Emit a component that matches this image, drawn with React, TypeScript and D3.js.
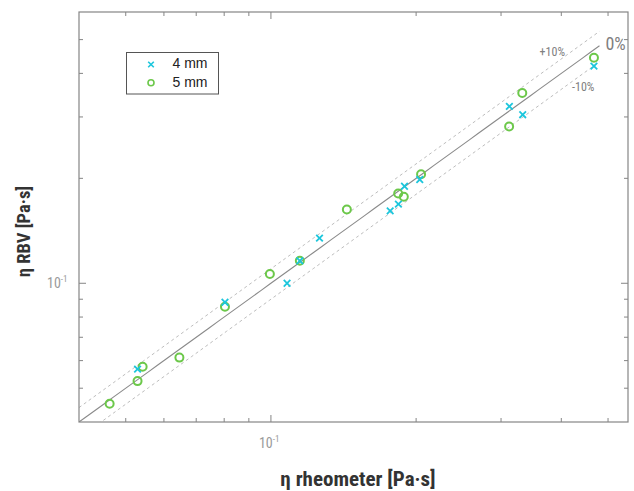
import React from "react";
import * as d3 from "d3";

const mm4X = [0.0529, 0.0803, 0.108, 0.1148, 0.1261, 0.1767, 0.1838, 0.1892, 0.2035, 0.3122, 0.3327, 0.4675];
const mm4Y = [0.0567, 0.0882, 0.1, 0.116, 0.1348, 0.1613, 0.1686, 0.1898, 0.1984, 0.3216, 0.3045, 0.4195];
const mm5X = [0.0463, 0.0529, 0.0542, 0.0646, 0.0803, 0.0995, 0.1148, 0.1437, 0.1836, 0.1886, 0.2048, 0.3118, 0.332, 0.4675];
const mm5Y = [0.0451, 0.0524, 0.0576, 0.0612, 0.0856, 0.1063, 0.116, 0.1628, 0.181, 0.177, 0.2054, 0.2818, 0.3512, 0.4433];
const seriesNames = ["4 mm", "5 mm"];
const refLines = [
  { factor: 1.0, label: "0%" },
  { factor: 1.1, label: "+10%" },
  { factor: 0.9, label: "-10%" },
];
const xDomain = [0.04, 0.55];
const yDomain = [0.04, 0.6];
const lineRange = [0.04, 0.48];
const xTitle = "η rheometer [Pa·s]";
const yTitle = "η RBV [Pa·s]";

const CYAN = "#1cc6dc";
const GREEN = "#6cc84a";
const COND = "'Liberation Sans Narrow','Roboto Condensed','DejaVu Sans Condensed','Open Sans',sans-serif";

export default function App() {
  const L = 79, R = 628, T = 12, B = 422;
  const x = d3.scaleLog().domain(xDomain).range([L, R]);
  const y = d3.scaleLog().domain(yDomain).range([B, T]);
  const xt = x.ticks().filter((v) => v > xDomain[0] * 1.001 && v < xDomain[1] * 0.999);
  const yt = y.ticks().filter((v) => v > yDomain[0] * 1.001 && v < yDomain[1] * 0.999);
  const isMajor = (v: number) => Math.abs(Math.log10(v) - Math.round(Math.log10(v))) < 1e-6;

  const lineGen = (f: number) => {
    const pts: [number, number][] = [];
    const n = 60;
    for (let i = 0; i <= n; i++) {
      const xv = lineRange[0] * Math.pow(lineRange[1] / lineRange[0], i / n);
      const yv = xv * f;
      pts.push([x(xv), y(yv)]);
    }
    return d3.line()(pts) || "";
  };
  const cross = (cx: number, cy: number, s: number, key: string | number, sw = 1.8) => (
    <g key={key} stroke={CYAN} strokeWidth={sw} strokeLinecap="butt">
      <line x1={cx - s} y1={cy - s} x2={cx + s} y2={cy + s} />
      <line x1={cx - s} y1={cy + s} x2={cx + s} y2={cy - s} />
    </g>
  );

  return (
    <svg width={634} height={491} style={{ position: "absolute", left: 0, top: 0, background: "#fff" }}>
      <defs>
        <clipPath id="plot">
          <rect x={L} y={T} width={R - L} height={B - T} />
        </clipPath>
      </defs>
      <rect x={0} y={0} width={634} height={491} fill="#fff" />
      {/* reference lines */}
      <g clipPath="url(#plot)" fill="none">
        <path d={lineGen(refLines[1].factor)} stroke="#bdbdbd" strokeWidth={1} strokeDasharray="3,3" />
        <path d={lineGen(refLines[2].factor)} stroke="#bdbdbd" strokeWidth={1} strokeDasharray="3,3" />
        <path d={lineGen(refLines[0].factor)} stroke="#8a8a8a" strokeWidth={1.1} />
      </g>
      <text x={x(lineRange[1]) + 6} y={y(lineRange[1]) - 1} fontFamily={COND} fontSize={18} fill="#808080" dominantBaseline="middle">{refLines[0].label}</text>
      <text x={565} y={53} fontFamily={COND} fontSize={12} fill="#808080" textAnchor="end" dominantBaseline="middle">{refLines[1].label}</text>
      <text x={572} y={88} fontFamily={COND} fontSize={12} fill="#808080" dominantBaseline="middle">{refLines[2].label}</text>

      {/* data */}
      <g clipPath="url(#plot)">
        {mm5X.map((v, i) => (
          <circle key={"g" + i} cx={x(v)} cy={y(mm5Y[i])} r={4} fill="none" stroke={GREEN} strokeWidth={2} />
        ))}
        {mm4X.map((v, i) => cross(x(v), y(mm4Y[i]), 3.3, "c" + i))}
      </g>

      {/* frame */}
      <rect x={L} y={T} width={R - L} height={B - T} fill="none" stroke="#858585" strokeWidth={1.2} />
      {/* ticks */}
      <g stroke="#858585" strokeWidth={1}>
        {xt.map((v, i) => {
          const len = isMajor(v) ? 7 : 4;
          return (
            <g key={"xt" + i}>
              <line x1={x(v)} x2={x(v)} y1={B} y2={B - len} />
              <line x1={x(v)} x2={x(v)} y1={T} y2={T + len} />
            </g>
          );
        })}
        {yt.map((v, i) => {
          const len = isMajor(v) ? 7 : 4;
          return (
            <g key={"yt" + i}>
              <line x1={L} x2={L + len} y1={y(v)} y2={y(v)} />
              <line x1={R} x2={R - len} y1={y(v)} y2={y(v)} />
            </g>
          );
        })}
      </g>
      {/* tick labels */}
      {xt.filter(isMajor).map((v, i) => (
        <text key={"xl" + i} x={x(v) - 12} y={448} fontFamily={COND} fontSize={14} fill="#9a9a9a">
          10<tspan dy={-6} fontSize={9}>{"-" + Math.round(-Math.log10(v))}</tspan>
        </text>
      ))}
      {yt.filter(isMajor).map((v, i) => (
        <text key={"yl" + i} x={47} y={y(v) + 5} fontFamily={COND} fontSize={14} fill="#9a9a9a">
          10<tspan dy={-6} fontSize={9}>{"-" + Math.round(-Math.log10(v))}</tspan>
        </text>
      ))}

      {/* axis titles */}
      <text x={358} y={486} textAnchor="middle" fontFamily={COND} fontSize={21} fontWeight="bold" fill="#333">{xTitle}</text>
      <text transform={`translate(30,231.5) rotate(-90)`} textAnchor="middle" fontFamily={COND} fontSize={18.5} fontWeight="bold" fill="#333">{yTitle}</text>

      {/* legend */}
      <rect x={126.5} y={52.5} width={92} height={41.5} fill="#fff" stroke="#555" strokeWidth={1} />
      {cross(151, 64.5, 2.8, "lg4", 1.6)}
      <circle cx={151} cy={82.7} r={3} fill="none" stroke={GREEN} strokeWidth={1.6} />
      <text x={172.5} y={64.5} dominantBaseline="middle" fontFamily="'Liberation Sans',Arial,sans-serif" fontSize={14} fill="#222">{seriesNames[0]}</text>
      <text x={172.5} y={83} dominantBaseline="middle" fontFamily="'Liberation Sans',Arial,sans-serif" fontSize={14} fill="#222">{seriesNames[1]}</text>
    </svg>
  );
}
